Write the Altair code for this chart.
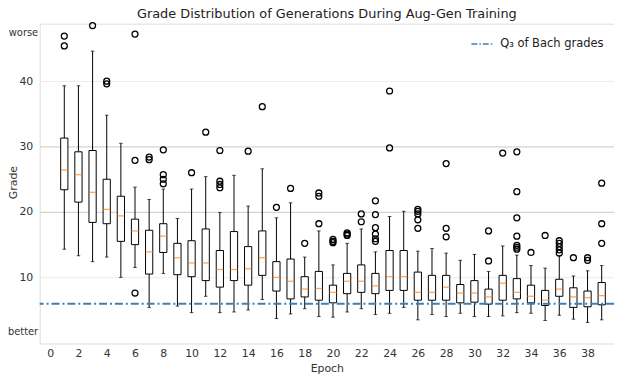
import altair as alt
import pandas as pd

# ---- data ----
epochs = list(range(1, 40))
whisker_low = [14.3, 13.3, 12.4, 13.1, 10.0, 11.5, 5.4, 10.6, 5.6, 4.6,
               7.1, 4.6, 4.7, 5.0, 6.6, 3.7, 4.4, 5.2, 4.0, 3.9,
               4.7, 5.2, 4.3, 4.5, 5.4, 3.5, 4.3, 4.0, 4.5, 4.0,
               4.0, 4.1, 4.6, 4.5, 3.4, 4.2, 3.6, 3.1, 3.5]
q1 = [23.4, 21.5, 18.4, 18.2, 15.5, 15.0, 10.5, 13.8, 10.4, 10.1,
      9.5, 8.5, 9.5, 8.8, 10.3, 7.9, 6.7, 7.0, 6.5, 6.1,
      7.5, 7.7, 7.5, 8.0, 8.0, 6.5, 6.5, 6.5, 6.1, 6.2,
      5.9, 6.5, 6.7, 6.1, 5.7, 7.1, 5.4, 5.5, 5.8]
median = [26.4, 25.7, 23.0, 20.4, 19.4, 17.1, 13.9, 16.3, 13.0, 12.2,
          12.2, 11.2, 11.2, 11.3, 13.0, 10.0, 9.4, 8.2, 8.3, 7.7,
          9.4, 9.4, 8.7, 10.1, 10.1, 7.7, 7.7, 8.5, 7.6, 7.6,
          7.0, 9.1, 7.7, 7.1, 6.5, 8.2, 7.0, 6.9, 7.2]
q3 = [31.3, 29.2, 29.4, 25.0, 22.4, 18.9, 17.2, 18.2, 15.2, 15.6,
      17.4, 14.1, 17.0, 14.7, 17.1, 12.4, 12.8, 10.1, 10.9, 8.8,
      10.6, 11.9, 10.6, 14.1, 14.1, 10.8, 10.3, 10.3, 8.9, 9.5,
      8.2, 10.3, 9.8, 8.8, 8.0, 9.7, 8.4, 7.9, 9.2]
whisker_high = [39.3, 39.3, 44.6, 34.8, 30.5, 23.8, 21.9, 23.5, 19.0, 23.5,
                25.4, 19.9, 25.6, 20.9, 26.6, 19.1, 21.4, 13.1, 17.1, 11.9,
                15.2, 17.4, 13.9, 19.3, 20.1, 14.0, 14.4, 13.7, 12.6, 13.5,
                10.9, 14.8, 13.4, 11.8, 11.4, 13.3, 10.2, 11.0, 11.8]
outliers = [
    [46.9, 45.4], [], [48.5], [40.0, 39.6], [], [47.2, 27.9, 7.6],
    [28.4, 28.0], [29.5, 25.7, 25.0, 24.3], [], [26.0],
    [32.2], [29.4, 24.7, 24.2, 23.7], [], [29.3], [36.1],
    [20.7], [23.6], [15.2], [22.9, 22.4, 18.2], [15.8, 15.5, 15.3],
    [16.8, 16.6, 16.4], [19.7, 18.5], [21.7, 19.6, 17.6, 16.6, 15.9, 15.5],
    [38.5, 29.8], [], [20.4, 20.1, 19.7, 18.8, 17.5], [], [27.4, 17.5, 16.2],
    [], [], [17.1, 12.5], [29.0], [29.2, 23.1, 19.1, 16.3, 14.9, 14.6, 14.3],
    [13.8], [16.4], [15.6, 15.2, 14.7, 14.2, 13.7], [13.0], [13.0, 12.6],
    [24.4, 18.2, 15.2],
]
bach_q3 = 5.95
bach_label = "Q\u2083 of Bach grades"
x_ticks = list(range(0, 39, 2))
y_ticks = [1.75, 10, 20, 30, 40, 47.5]
better_value, worse_value = 1.75, 47.5

# ---- tables ----
boxes = pd.DataFrame({
    "epoch": epochs, "lo": whisker_low, "q1": q1, "med": median,
    "q3": q3, "hi": whisker_high,
})
outlier_df = pd.DataFrame(
    [(e, v) for e, vals in zip(epochs, outliers) for v in vals],
    columns=["epoch", "grade"],
)
bach_df = pd.DataFrame({"grade": [bach_q3], "series": [bach_label]})

FONT = "DejaVu Sans"
xs = alt.Scale(domain=[-0.39, 39.52], nice=False, zero=False)
ys = alt.Scale(domain=[-0.12, 48.8], nice=False, zero=False)

special = f"datum.value == {better_value} || datum.value == {worse_value}"

x_axis = alt.Axis(
    values=x_ticks, title="Epoch", grid=False, ticks=False, domain=False,
    labelPadding=4, labelFlush=False, labelFontSize=11, labelColor="#333333",
    labelFont=FONT, titleFont=FONT, titleFontSize=11, titleFontWeight="normal",
    titleColor="#333333", titlePadding=4,
)
y_axis = alt.Axis(
    values=y_ticks, title="Grade", grid=True, ticks=False, domain=False,
    labelFlush=False, labelOverlap=False,
    labelExpr=f"datum.value == {better_value} ? 'better' : (datum.value == {worse_value} ? 'worse' : datum.label)",
    labelFont=FONT, labelColor="#333333",
    labelFontSize={"condition": {"test": special, "value": 10}, "value": 11},
    labelPadding={"condition": {"test": special, "value": 2}, "value": 7},
    gridColor={"condition": {"test": "datum.value == 10 || datum.value == 40", "value": "#ececec"}, "value": "#c8c8c8"},
    gridOpacity={"condition": {"test": special, "value": 0}, "value": 1},
    gridWidth=1,
    titleFont=FONT, titleFontSize=11, titleFontWeight="normal", titleColor="#333333",
    titleX=-26, titleY=160, titleAngle=-90, titleAlign="center", titleBaseline="middle",
)

X = alt.X("epoch:Q", scale=xs, axis=x_axis)

whisk_lo = alt.Chart(boxes).mark_rule(color="black", strokeWidth=1).encode(
    x=X, y=alt.Y("lo:Q", scale=ys, axis=y_axis), y2="q1:Q")
whisk_hi = alt.Chart(boxes).mark_rule(color="black", strokeWidth=1).encode(
    x=X, y=alt.Y("q3:Q", scale=ys, axis=y_axis), y2="hi:Q")
cap_lo = alt.Chart(boxes).mark_tick(orient="horizontal", size=3.6, thickness=1, color="black").encode(
    x=X, y=alt.Y("lo:Q", scale=ys, axis=y_axis))
cap_hi = alt.Chart(boxes).mark_tick(orient="horizontal", size=3.6, thickness=1, color="black").encode(
    x=X, y=alt.Y("hi:Q", scale=ys, axis=y_axis))
box = alt.Chart(boxes).mark_bar(size=7.3, fill="white", stroke="black", strokeWidth=1).encode(
    x=X, y=alt.Y("q1:Q", scale=ys, axis=y_axis), y2="q3:Q")
med = alt.Chart(boxes).mark_tick(orient="horizontal", size=7.3, thickness=1.3, color="#ff7f0e").encode(
    x=X, y=alt.Y("med:Q", scale=ys, axis=y_axis))
pts = alt.Chart(outlier_df).mark_point(shape="circle", filled=False, size=36, stroke="black", strokeWidth=1.3, opacity=1).encode(
    x=X, y=alt.Y("grade:Q", scale=ys, axis=y_axis))
bach = alt.Chart(bach_df).mark_rule(strokeDash=[8, 3, 2, 3], strokeWidth=2).encode(
    y=alt.Y("grade:Q", scale=ys, axis=y_axis),
    color=alt.Color("series:N", scale=alt.Scale(range=["#3f7fb6"]), legend=alt.Legend(
        title=None, orient="none", legendX=435, legendY=8, padding=0,
        symbolType="stroke", symbolSize=529, symbolStrokeWidth=1.5,
        symbolDash=[6, 2, 1.5, 2], labelFont=FONT, labelFontSize=11.6,
        labelColor="#222222", labelOffset=5,
    )),
)

chart = alt.layer(whisk_lo, whisk_hi, cap_lo, cap_hi, box, med, pts, bach).properties(
    width=580, height=323,
    title=alt.TitleParams(
        "Grade Distribution of Generations During Aug-Gen Training",
        font=FONT, fontSize=13, fontWeight="normal", color="#222222",
        anchor="middle", offset=-1,
    ),
    padding={"left": 32, "top": 14, "right": 0, "bottom": 29},
    autosize=alt.AutoSizeParams(type="none"),
).configure_view(stroke="#cccccc", strokeWidth=1).configure(background="white")

chart.save("out.html", embed_options={"renderer": "svg", "actions": False})
